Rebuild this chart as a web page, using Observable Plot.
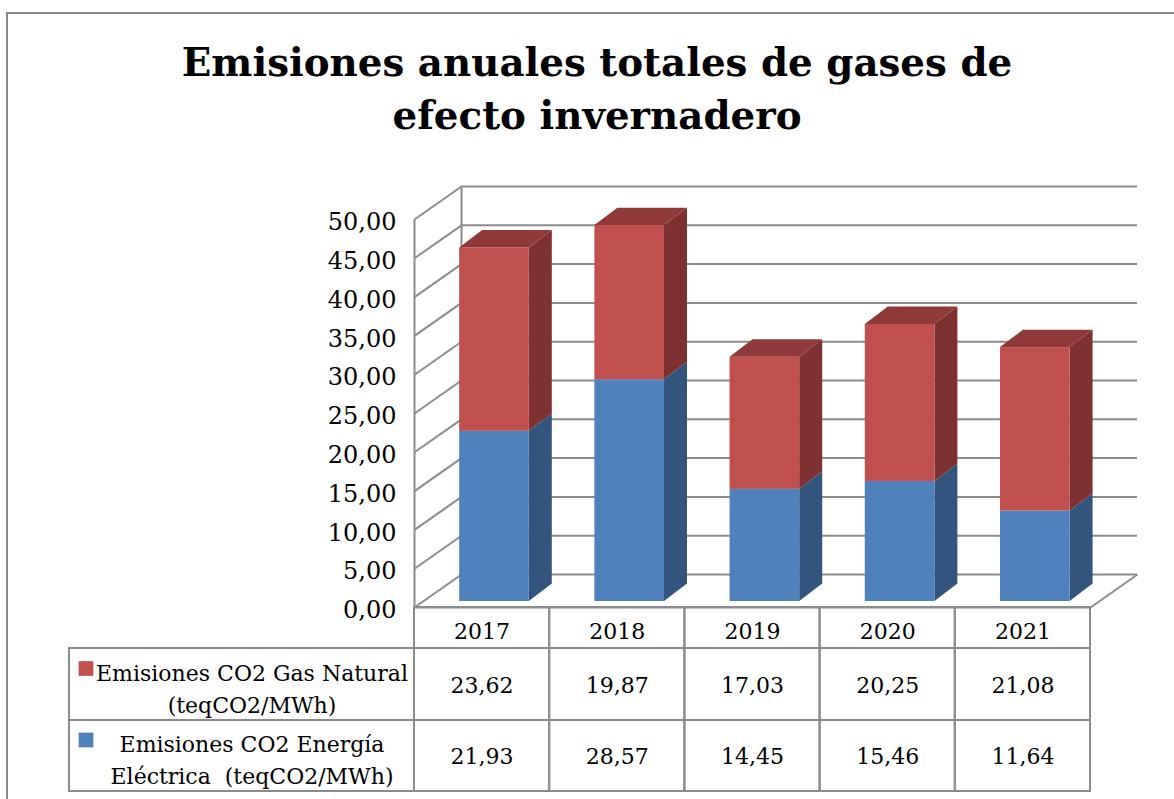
<!DOCTYPE html>
<html>
<head>
<meta charset="utf-8">
<script src="https://cdn.jsdelivr.net/npm/d3@7"></script>
<script src="https://cdn.jsdelivr.net/npm/@observablehq/plot@0.6"></script>
<style>
  html, body { margin: 0; padding: 0; background: #ffffff; }
  #wrap { position: relative; width: 1174px; height: 799px; overflow: hidden; background: #fff; }
  #frame { position: absolute; left: 6px; top: 12px; width: 1200px; height: 820px; border: 2px solid #8a8a8a; box-sizing: border-box; }
  #title { position: absolute; left: 0; top: 36px; width: 1194px; text-align: center;
           font-family: "DejaVu Serif", serif; font-weight: bold; font-size: 38.8px; line-height: 53px; color: #000; }
  #chart { position: absolute; left: 0; top: 150px; }
  #table { position: absolute; left: 0; top: 599px; }
</style>
</head>
<body>
<div id="wrap">
  <div id="frame"></div>
  <div id="title">Emisiones anuales totales de gases de<br>efecto invernadero</div>
  <div id="chart"></div>
  <div id="table"></div>
</div>
<script>
// ---- data ----
const years = ["2017", "2018", "2019", "2020", "2021"];
const gasNatural = [23.62, 19.87, 17.03, 20.25, 21.08];        // Emisiones CO2 Gas Natural
const energiaElectrica = [21.93, 28.57, 14.45, 15.46, 11.64];  // Emisiones CO2 Energía Eléctrica
const yTicks = [0, 5, 10, 15, 20, 25, 30, 35, 40, 45, 50];
const seriesLabels = ["Emisiones CO2 Gas Natural\n(teqCO2/MWh)", "Emisiones CO2 Energía\nEléctrica  (teqCO2/MWh)"];

// ---- styling / 3D geometry (in scale units) ----
const gridColor = "#8c8c8c";
const redFront = "#C0504D", redSide = "#7D3231", redTop = "#8F3A38";
const blueFront = "#4F81BD", blueSide = "#33557D";
const wallDx = 0.3476, wallDy = 4.25;   // depth of the back wall
const barDx = 0.17, barDy = 2.25;       // depth of each bar
const barL = 0.275, barR = 0.79;        // bar front face within its category slot
const fmt = v => v.toFixed(2).replace(".", ",");

// segments (stacked: electricity at bottom, gas on top)
const segs = [];
years.forEach((y, i) => {
  segs.push({i, lo: 0, hi: energiaElectrica[i], s: "elec"});
  segs.push({i, lo: energiaElectrica[i], hi: energiaElectrica[i] + gasNatural[i], s: "gas"});
});
const sidePts = segs.flatMap((d, k) => [
  {k, s: d.s, x: d.i + barR, y1: d.lo, y2: d.hi},
  {k, s: d.s, x: d.i + barR + barDx, y1: d.lo + barDy, y2: d.hi + barDy}
]);
const topPts = years.flatMap((y, i) => {
  const t = energiaElectrica[i] + gasNatural[i];
  return [
    {i, y: t, x1: i + barL, x2: i + barR},
    {i, y: t + barDy, x1: i + barL + barDx, x2: i + barR + barDx}
  ];
});
const barOff = {dx: 8, dy: -6};

const chart = Plot.plot({
  width: 1174,
  height: 462,
  marginLeft: 414,
  marginRight: 84,
  marginTop: 69,
  marginBottom: 5,
  x: {type: "linear", domain: [0, 5], axis: null},
  y: {type: "linear", domain: [0, 50], axis: null},
  style: {fontFamily: "DejaVu Serif", fontSize: "24px", color: "#000", background: "transparent", overflow: "visible"},
  marks: [
    // back wall gridlines
    Plot.ruleY(yTicks, {y: d => d + wallDy, x1: wallDx, x2: 5 + wallDx, stroke: gridColor, strokeWidth: 2, strokeOpacity: 1}),
    // left wall diagonals
    Plot.link(yTicks, {x1: 0, y1: d => d, x2: wallDx, y2: d => d + wallDy, stroke: gridColor, strokeWidth: 2, strokeOpacity: 1}),
    // back-left vertical edge
    Plot.ruleX([wallDx], {y1: wallDy, y2: 50 + wallDy, stroke: gridColor, strokeWidth: 2, strokeOpacity: 1}),
    // front y axis line and floor edges
    Plot.ruleX([0], {y1: 0, y2: 50, stroke: gridColor, strokeWidth: 2, strokeOpacity: 1}),
    Plot.ruleY([0], {x1: 0, x2: 5, stroke: gridColor, strokeWidth: 2, strokeOpacity: 1}),
    Plot.link([0], {x1: 5, y1: 0, x2: 5 + wallDx, y2: wallDy, stroke: gridColor, strokeWidth: 2, strokeOpacity: 1}),
    // y tick labels
    Plot.axisY(yTicks, {tickSize: 0, tickPadding: 18, tickFormat: fmt, fontSize: 24, dy: 3, fill: "#000"}),
    // bars: side faces
    Plot.areaY(sidePts.filter(d => d.s === "elec"), {x: "x", y1: "y1", y2: "y2", z: "k", fill: blueSide, ...barOff}),
    Plot.areaY(sidePts.filter(d => d.s === "gas"), {x: "x", y1: "y1", y2: "y2", z: "k", fill: redSide, ...barOff}),
    // bars: front faces
    Plot.rect(segs, {x1: d => d.i + barL, x2: d => d.i + barR, y1: "lo", y2: "hi",
      fill: d => d.s === "gas" ? redFront : blueFront, ...barOff}),
    // bars: top faces
    Plot.areaX(topPts, {y: "y", x1: "x1", x2: "x2", z: "i", fill: redTop, ...barOff})
  ]
});
document.getElementById("chart").appendChild(chart);

// ---- data table ----
const rowIdx = [1, 2];
const values = [gasNatural, energiaElectrica];
const valueCells = rowIdx.flatMap((r, j) => values[j].map((v, i) => ({r, i, v})));
const table = Plot.plot({
  width: 1174,
  height: 200,
  margin: 0,
  x: {type: "linear", domain: [-1, 0, 5], range: [69, 414, 1090], axis: null},
  y: {type: "linear", domain: [0, 1, 2, 3], range: [8, 49, 121, 192], axis: null},
  style: {fontFamily: "DejaVu Serif", fontSize: "22px", color: "#000", background: "transparent", overflow: "visible"},
  marks: [
    // year row cells
    Plot.rect(years, {x1: (d, i) => i, x2: (d, i) => i + 1, y1: 0, y2: 1, stroke: gridColor, strokeWidth: 2, fill: "none"}),
    // label cells
    Plot.rect(rowIdx, {x1: -1, x2: 0, y1: d => d, y2: d => d + 1, stroke: gridColor, strokeWidth: 2, fill: "none"}),
    // value cells
    Plot.rect(valueCells, {x1: "i", x2: d => d.i + 1, y1: "r", y2: d => d.r + 1, stroke: gridColor, strokeWidth: 2, fill: "none"}),
    // year labels
    Plot.text(years, {x: (d, i) => i + 0.5, y: 0.5, text: d => d, fontSize: 22, dy: 4, fill: "#000"}),
    // values
    Plot.text(valueCells, {x: d => d.i + 0.5, y: d => d.r + 0.5, text: d => fmt(d.v), fontSize: 22, dy: 1, fill: "#000"}),
    // legend squares
    Plot.dot(rowIdx, {x: -1, y: d => d + 0.5, symbol: "square", r: 8.3, dx: 16.5, dy: -16,
      fill: d => d === 1 ? redFront : blueFront, stroke: "none"}),
    // series labels
    Plot.text(rowIdx, {x: -0.5, y: d => d + 0.5, text: d => seriesLabels[d - 1], dx: 10, dy: 2, fontSize: 22,
      lineHeight: 1.45, lineAnchor: "middle", fill: "#000"})
  ]
});
document.getElementById("table").appendChild(table);
</script>
</body>
</html>
